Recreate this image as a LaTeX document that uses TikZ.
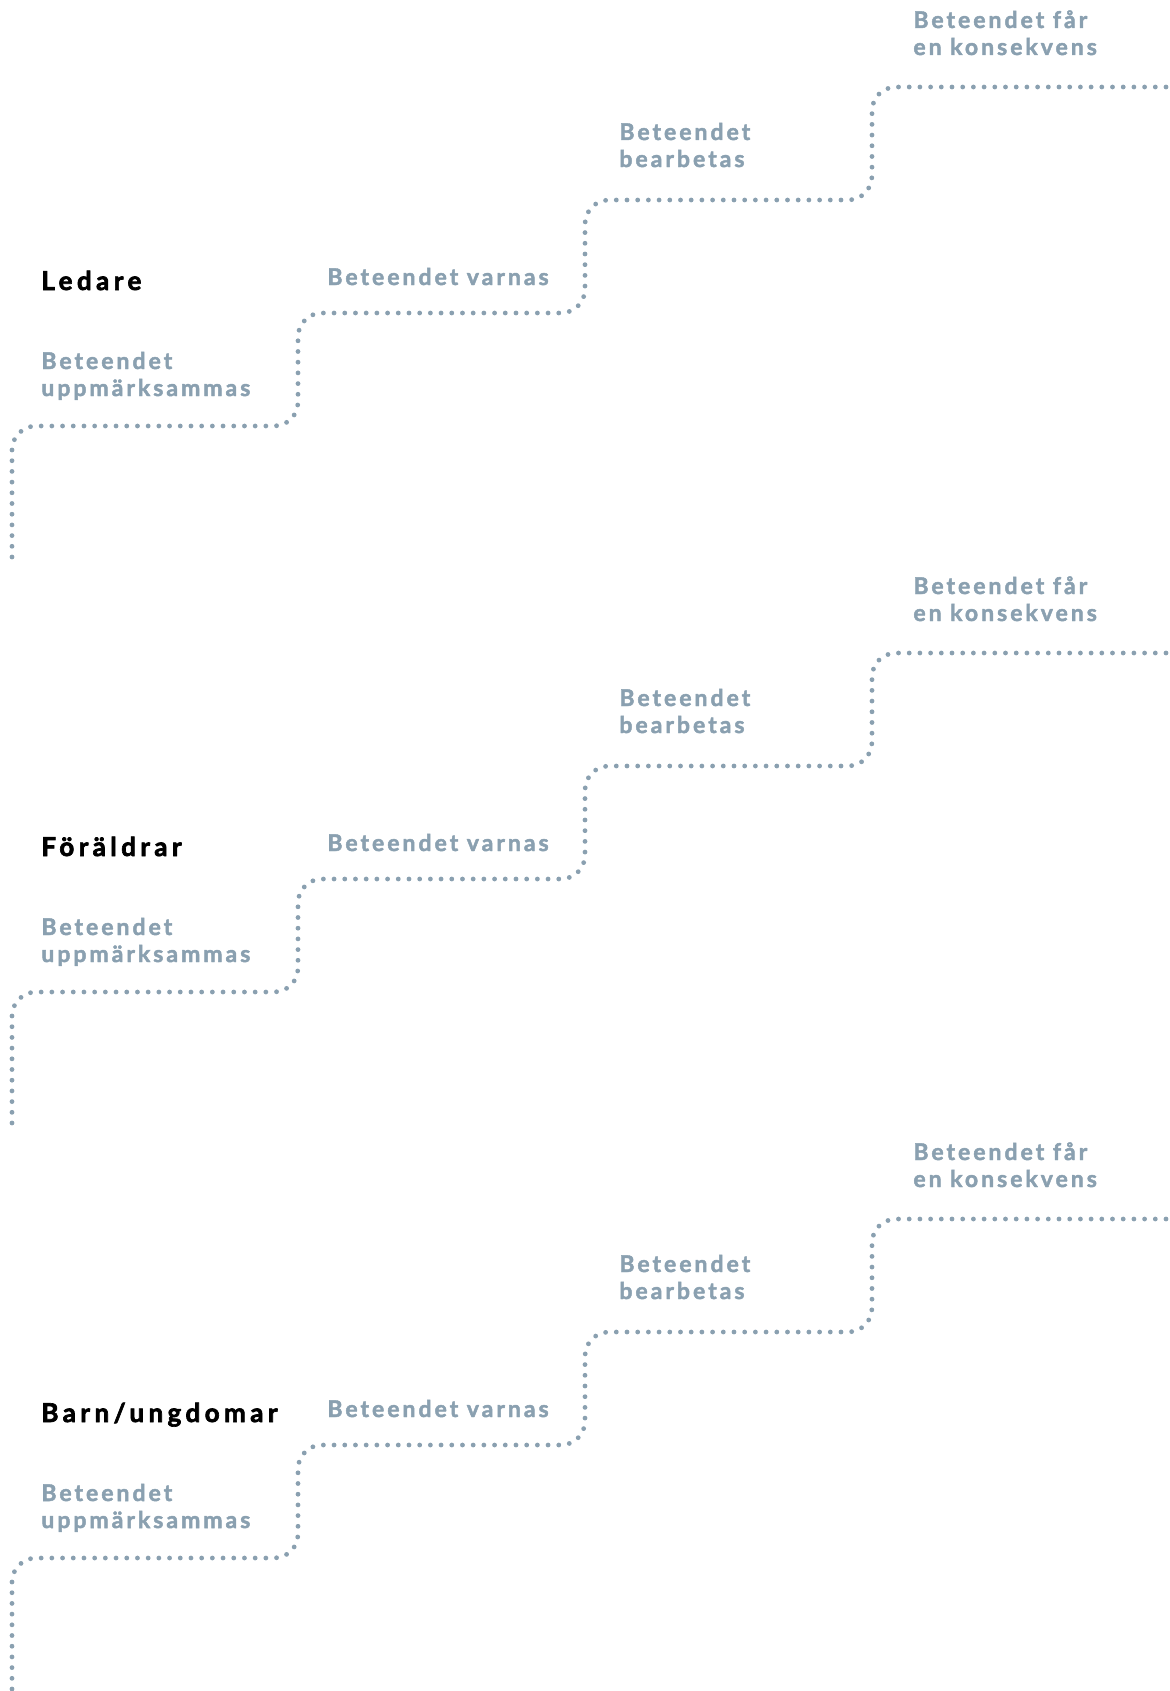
\documentclass[tikz,border=0pt]{standalone}
\usepackage{fontspec}
\setmainfont{Lato}
\newfontfamily\stepfont{Lato}[LetterSpace=13, FakeBold=2]
\newfontfamily\titlefont{Lato}[LetterSpace=17, FakeBold=2.5]
\definecolor{stepgrey}{RGB}{138,160,176}
\tikzset{
  stairdots/.style={draw=stepgrey, line width=2.4pt, line cap=round, dash pattern=on 0pt off 5.35pt, rounded corners=12pt},
  steplabel/.style={anchor=base west, inner sep=0pt, align=left, text=stepgrey, font=\stepfont\bfseries\fontsize{11.5}{13.5}\selectfont},
  grouptitle/.style={anchor=base west, inner sep=0pt, text=black, font=\titlefont\bfseries\fontsize{13}{16}\selectfont}
}
\newcommand{\stairblock}[3]{%
  \begin{scope}[shift={(0,#1)}]
    \coordinate (s0#3) at (12,557);
    \coordinate (c1#3) at (12,426);
    \coordinate (c2#3) at (298,426);
    \coordinate (c3#3) at (298,313);
    \coordinate (c4#3) at (585,313);
    \coordinate (c5#3) at (585,200);
    \coordinate (c6#3) at (872,200);
    \coordinate (c7#3) at (872,87);
    \coordinate (e#3) at (1172,87);
    \draw[stairdots] (s0#3) -- (c1#3) -- (c2#3) -- (c3#3) -- (c4#3) -- (c5#3) -- (c6#3) -- (c7#3) -- (e#3);
    \node[grouptitle] (t#3) at (41,290) {#2};
    \node[steplabel] (a#3) at (41,396) {Beteendet\\uppmärksammas};
    \node[steplabel] (b#3) at (327,285) {Beteendet varnas};
    \node[steplabel] (c#3) at (619,167) {Beteendet\\bearbetas};
    \node[steplabel] (d#3) at (913,55) {Beteendet får\\en konsekvens};
  \end{scope}}
\begin{document}
\begin{tikzpicture}[x=0.5pt,y=-0.5pt]
  \useasboundingbox (0,0) rectangle (1170,1691);
  \stairblock{0}{Ledare}{A}
  \stairblock{566}{Föräldrar}{B}
  \stairblock{1132}{Barn/ungdomar}{C}
\end{tikzpicture}
\end{document}
